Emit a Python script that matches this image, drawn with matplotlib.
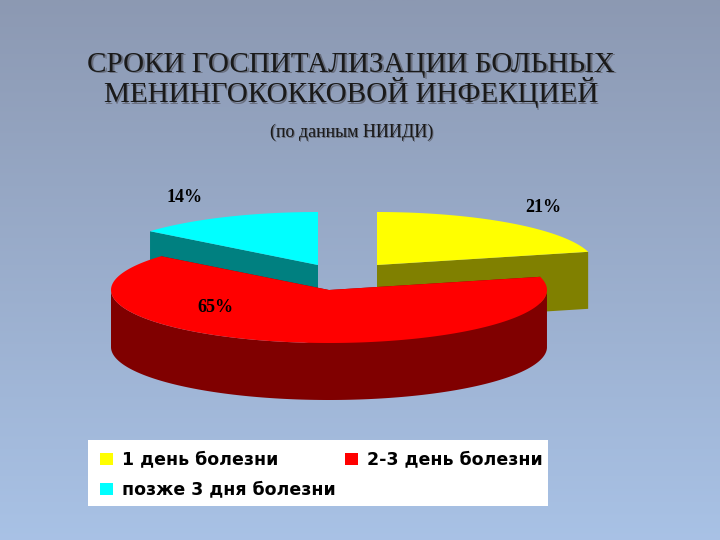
import numpy as np
import matplotlib.pyplot as plt
from matplotlib.patches import Polygon, Rectangle

labels = ["1 день болезни", "2-3 день болезни", "позже 3 дня болезни"]
shares = [21, 65, 14]
pct_text = ["21%", "65%", "14%"]
top_colors = ["#ffff00", "#ff0000", "#00ffff"]
side_colors = ["#808000", "#800000", "#008080"]
offsets = [(42, -3), (-6, 22), (-17, -3)]
label_pos = [(543, 207), (215, 307), (185, 197)]

fig = plt.figure(figsize=(7.2, 5.4), dpi=100)
ax = fig.add_axes([0, 0, 1, 1])
ax.set_xlim(0, 720)
ax.set_ylim(540, 0)
ax.axis("off")

# background gradient
grad = np.linspace(0, 1, 256).reshape(-1, 1)
c0 = np.array([0.55, 0.60, 0.70])
c1 = np.array([0.66, 0.76, 0.90])
img = c0 + grad[:, :, None] * (c1 - c0)
ax.imshow(img, extent=[0, 720, 540, 0], aspect="auto", zorder=0)

cx, cy, rx, ry, depth = 335, 268, 218, 53, 57

def pts(t, ox, oy, dz=0):
    return np.column_stack([cx + ox + rx * np.cos(t), cy + oy - ry * np.sin(t) + dz])

# wedge angles (clockwise from 90 deg)
bounds = []
start = 90.0
for s in shares:
    end = start - s * 3.6
    bounds.append((start, end))
    start = end

order = [2, 0, 1]
z = 2
for i in order:
    a0, a1 = np.radians(bounds[i][0]), np.radians(bounds[i][1])
    ox, oy = offsets[i]
    c = np.array([[cx + ox, cy + oy]])
    # radial faces
    for a in (a0, a1):
        e = pts(np.array([a]), ox, oy)
        poly = np.vstack([c, e, e + [0, depth], c + [0, depth]])
        ax.add_patch(Polygon(poly, closed=True, fc=side_colors[i], ec="none", zorder=z))
    # outer wall (front part)
    t = np.linspace(a1, a0, 200)
    front = np.sin(t) < 0
    if front.any():
        tt = t[front]
        top = pts(tt, ox, oy)
        bot = pts(tt[::-1], ox, oy, depth)
        ax.add_patch(Polygon(np.vstack([top, bot]), closed=True, fc=side_colors[i], ec="none", zorder=z + 1))
    # top face
    arc = pts(t, ox, oy)
    ax.add_patch(Polygon(np.vstack([c, arc]), closed=True, fc=top_colors[i], ec="none", zorder=z + 2))
    z += 3

for txt, (x, y) in zip(pct_text, label_pos):
    ax.text(x, y, txt, ha="center", va="center", fontsize=13, fontweight="bold",
            family="Liberation Serif", zorder=20)

# title with a soft shadow
for dx, col in ((1.5, "#6a7080"), (0, "#1a1a1a")):
    ax.text(351 + dx, 80 + dx, "СРОКИ ГОСПИТАЛИЗАЦИИ БОЛЬНЫХ\nМЕНИНГОКОККОВОЙ ИНФЕКЦИЕЙ",
            ha="center", va="center", fontsize=21, family="Liberation Serif",
            color=col, linespacing=1.0, zorder=20)
    ax.text(352 + dx * 0.7, 132 + dx * 0.7, "(по данным НИИДИ)", ha="center", va="center",
            fontsize=13, family="Liberation Serif", color=col, zorder=20)

# legend
ax.add_patch(Rectangle((88, 440), 460, 66, fc="white", ec="none", zorder=20))
leg_pos = [(100, 459), (345, 459), (100, 489)]
for i, (x, y) in enumerate(leg_pos):
    ax.add_patch(Rectangle((x, y - 6), 13, 12, fc=top_colors[i], ec="none", zorder=21))
    ax.text(x + 22, y, labels[i], ha="left", va="center", fontsize=12.5,
            fontweight="bold", family="DejaVu Sans", zorder=21)

fig.savefig("out.png", dpi=100)
